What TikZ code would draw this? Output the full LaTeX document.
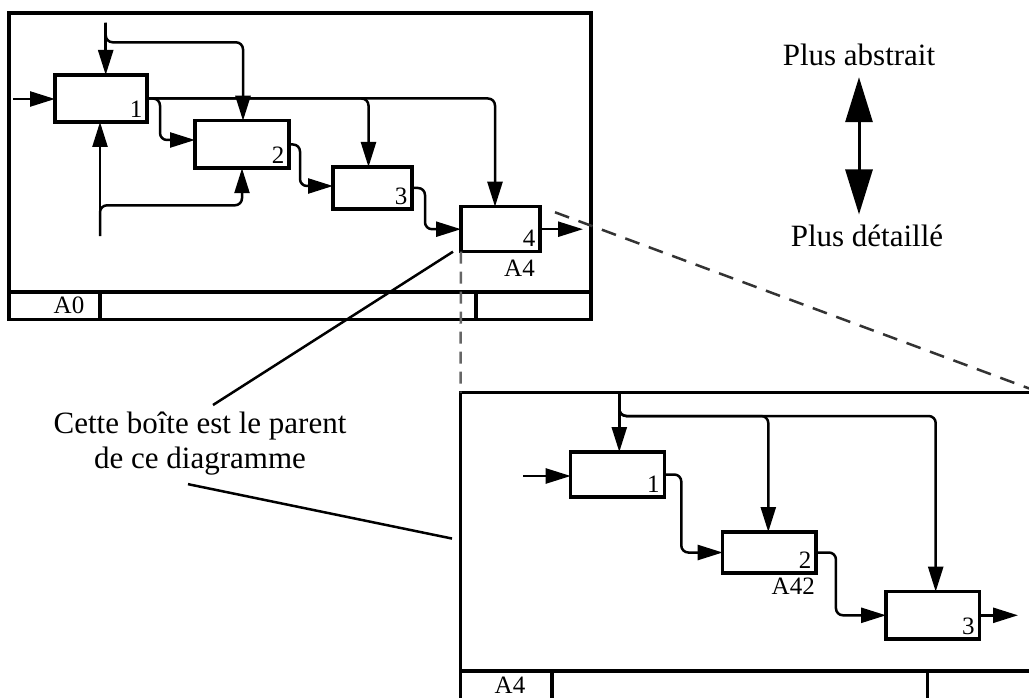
\documentclass[tikz,border=0pt]{standalone}
\usepackage{fontspec}
\setmainfont{Liberation Serif}
\usetikzlibrary{arrows.meta,positioning,calc}
\tikzset{
  idframe/.style={draw, line width=3.5pt, inner sep=0pt, outer sep=0pt},
  bar/.style={line width=3.5pt},
  abox/.style={draw, line width=3.5pt, inner sep=0pt, outer sep=0pt},
  bnum/.style={anchor=south east, inner sep=4.5pt, font=\fontsize{25}{28}\selectfont},
  idlbl/.style={inner sep=0pt, font=\fontsize{25}{28}\selectfont},
  bigtxt/.style={inner sep=0pt, font=\fontsize{31}{35}\selectfont},
  flow/.style={-{Triangle[length=25pt,width=15pt]}, line width=2.5pt, rounded corners=7pt},
  updown/.style={{Triangle[length=45pt,width=27pt]}-{Triangle[length=45pt,width=27pt]}, line width=3pt},
  pointer/.style={line width=2.5pt},
  zoomline/.style={line width=2.5pt, black!80, dash pattern=on 15pt off 10pt},
  zoomdown/.style={line width=2.5pt, black!60, dash pattern=on 12pt off 8pt},
}
\begin{document}
\begin{tikzpicture}[x=1pt, y=-1pt]
  \clip (0,0) rectangle (1029,698);
  % parent diagram A0
  \node[idframe, minimum width=582pt, minimum height=306.5pt] (fA0) at (300,166.25) {};
  \draw[bar] (fA0.west |- 0,292) -- (fA0.east |- 0,292);
  \foreach \x in {100,476}
     \draw[bar] (\x,292) -- (\x,319.5);
  \node[idlbl] (lA0) at (69,305) {A0};
  \node[abox, minimum width=92pt, minimum height=47pt, label={[bnum]south east:1}] (b1) at (101,98.5) {};
  \node[abox, minimum width=94pt, minimum height=47.5pt, label={[bnum]south east:2}] (b2) at (242,144.5) {};
  \node[abox, minimum width=79pt, minimum height=42pt, label={[bnum]south east:3}] (b3) at (372.5,188) {};
  \node[abox, minimum width=79pt, minimum height=45pt, label={[bnum]south east:4}] (b4) at (500.5,229.2) {};
  \node[idlbl, below left=8pt and 5pt of b4.south east] (lb4) {A4};
  \coordinate (inA) at (13,99);
  \coordinate (ctlA) at (105.7,22.7);
  \coordinate (ctlAs) at (105.7,42.3);
  \coordinate (mechA) at (100,236);
  \coordinate (mechAs) at (100,205.3);
  \coordinate (outA) at (583,229.2);
  \draw[flow] (inA) -- (inA -| b1.west);
  \draw[flow] (ctlA) -- (ctlA |- b1.north);
  \draw[flow] (ctlA) -- (ctlAs) -| ([xshift=1pt]b2.north);
  \draw[flow] (mechA) -- (mechA |- b1.south);
  \draw[flow] (mechA) -- (mechAs) -| (b2.south);
  \draw[flow] (b1.east) -- ++(13,0) |- ([yshift=4.5pt]b2.west);
  \draw[flow] (b1.east) -| ([xshift=-4pt]b3.north);
  \draw[flow] (b1.east) -| ([xshift=-5.5pt]b4.north);
  \draw[flow] (b2.east) -- ++(11,0) |- ([yshift=2pt]b3.west);
  \draw[flow] (b3.east) -- ++(13,0) |- (b4.west);
  \draw[flow] (b4.east) -- (outA);

  % child diagram A4
  \node[idframe, minimum width=579.5pt, minimum height=307.5pt] (fA4) at (750.25,546.25) {};
  \draw[bar] (fA4.west |- 0,671) -- (fA4.east |- 0,671);
  \foreach \x in {552,927.5}
     \draw[bar] (\x,671) -- (\x,700);
  \node[idlbl] (lA4) at (510,685) {A4};
  \node[abox, minimum width=93.6pt, minimum height=45pt, label={[bnum]south east:1}] (c1) at (617.5,474.5) {};
  \node[abox, minimum width=93.3pt, minimum height=41pt, label={[bnum]south east:2}] (c2) at (769.3,552.5) {};
  \node[abox, minimum width=93.3pt, minimum height=47.3pt, label={[bnum]south east:3}] (c3) at (932.7,615.3) {};
  \node[idlbl, below left=5pt and 1pt of c2.south east] (lc2) {A42};
  \coordinate (ctlB) at (619.3,392.5);
  \coordinate (ctlBs) at (619.3,416);
  \coordinate (inB) at (523,476);
  \coordinate (outB) at (1018,615.3);
  \draw[flow] (ctlB) -- (ctlB |- c1.north);
  \draw[flow] (ctlB) -- (ctlBs) -| ([xshift=-1pt]c2.north);
  \draw[flow] (ctlB) -- (ctlBs) -| ([xshift=3pt]c3.north);
  \draw[flow] (inB) -- (inB -| c1.west);
  \draw[flow] (c1.east) -- ++(17,0) |- (c2.west);
  \draw[flow] (c2.east) -- ++(20,0) |- (c3.west);
  \draw[flow] (c3.east) -- (outB);

  % zoom lines and notes
  \draw[zoomline, shorten <=16pt] (b4.north east) -- (fA4.north east);
  \draw[zoomdown] (b4.south west) -- (fA4.north west);
  \node[bigtxt, anchor=base] (abs) at (859,66) {Plus abstrait};
  \node[bigtxt, anchor=base] (det) at (867,246.7) {Plus détaillé};
  \draw[updown, shorten <=10.7pt, shorten >=10.5pt] (abs.south) -- (abs.south |- det.north);
  \node[bigtxt, align=center, anchor=north] (note) at (200,412) {Cette boîte est le parent\\de ce diagramme};
  \draw[pointer] ([xshift=13pt,yshift=7pt]note.north) -- ([xshift=-8pt]b4.south west);
  \draw[pointer] ([xshift=-12pt,yshift=-8.5pt]note.south) -- ([xshift=-8.5pt,yshift=7.7pt]fA4.west);
\end{tikzpicture}
\end{document}
